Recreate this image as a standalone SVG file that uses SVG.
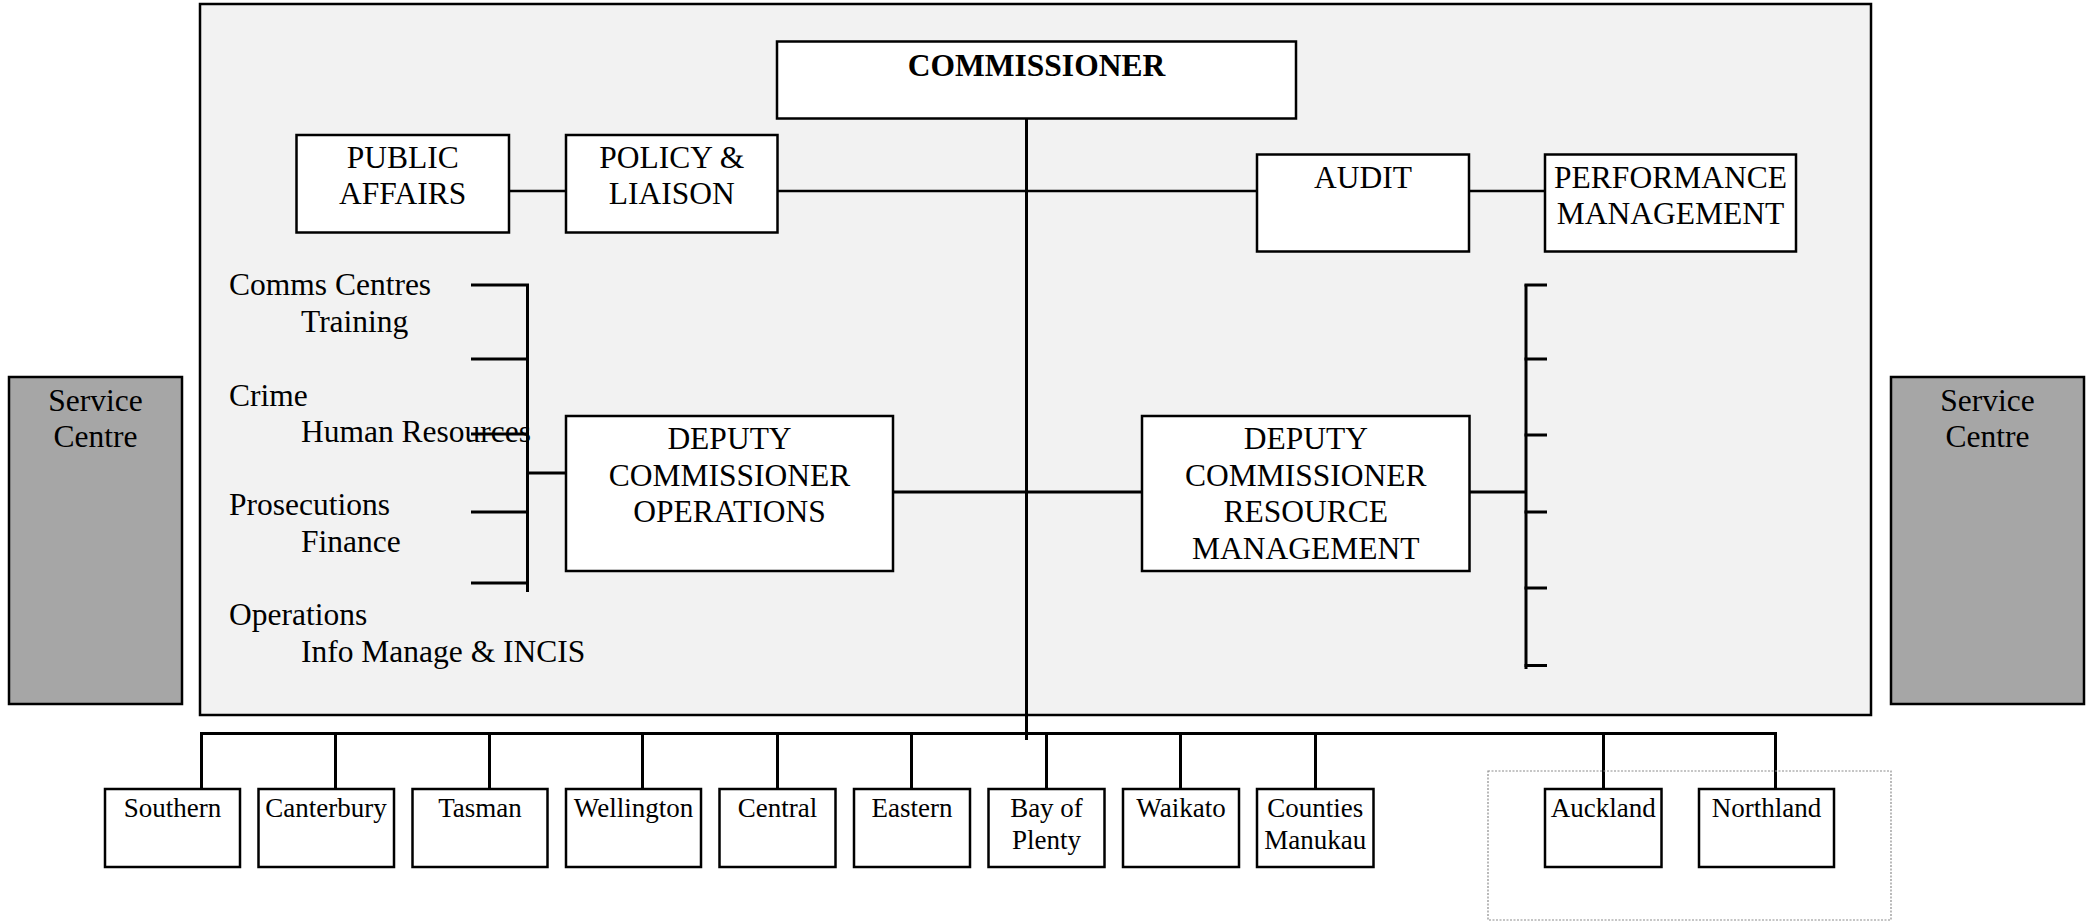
<svg xmlns="http://www.w3.org/2000/svg" width="2096" height="921" viewBox="0 0 2096 921">
  <style>
    .box { fill: #ffffff; stroke: #000000; stroke-width: 2.5; }
    .svc { fill: #a6a6a6; stroke: #000000; stroke-width: 2.5; }
    .t { font-family: "Liberation Serif", "Times New Roman", serif; font-size: 31.5px; fill: #000000; }
    .c { text-anchor: middle; }
    .b { font-weight: bold; }
    .s { font-family: "Liberation Serif", "Times New Roman", serif; font-size: 27px; fill: #000000; text-anchor: middle; }
    .ln { stroke: #000000; stroke-width: 3; fill: none; }
    .thin { stroke: #000000; stroke-width: 2.5; fill: none; }
  </style>

  <rect width="2096" height="921" fill="#ffffff"/>

  <!-- national headquarters panel -->
  <rect id="headquarters" x="200" y="4" width="1671" height="711" fill="#f2f2f2" stroke="#000000" stroke-width="2.5"/>

  <!-- service centres either side -->
  <g id="service-centre-left">
    <rect class="svc" x="9" y="377" width="173" height="327"/>
    <text class="t c" x="95.5" y="410.5">Service</text>
    <text class="t c" x="95.5" y="447">Centre</text>
  </g>
  <g id="service-centre-right">
    <rect class="svc" x="1891" y="377" width="193" height="327"/>
    <text class="t c" x="1987.5" y="410.5">Service</text>
    <text class="t c" x="1987.5" y="447">Centre</text>
  </g>

  <!-- operations branches listed beside the bracket -->
  <g id="operations-branches">
    <text class="t" x="229" y="294.5">Comms Centres</text>
    <text class="t" x="301" y="331.5">Training</text>
    <text class="t" x="229" y="405.5">Crime</text>
    <text class="t" x="301" y="441.5">Human Resources</text>
    <text class="t" x="229" y="515">Prosecutions</text>
    <text class="t" x="301" y="551.5">Finance</text>
    <text class="t" x="229" y="625">Operations</text>
    <text class="t" x="301" y="661.5">Info Manage &amp; INCIS</text>
  </g>

  <!-- connectors -->
  <g id="connectors">
    <!-- staff units row -->
    <line class="thin" x1="509" y1="191" x2="566" y2="191"/>
    <line class="thin" x1="777.5" y1="191" x2="1257" y2="191"/>
    <line class="thin" x1="1469" y1="191" x2="1545" y2="191"/>
    <!-- commissioner trunk -->
    <line class="ln" x1="1026.5" y1="118" x2="1026.5" y2="740"/>
    <!-- deputies link -->
    <line class="ln" x1="893" y1="492" x2="1142" y2="492"/>
    <!-- left bracket -->
    <line class="ln" x1="527.5" y1="284.5" x2="527.5" y2="592"/>
    <line class="ln" x1="471" y1="285" x2="529" y2="285"/>
    <line class="ln" x1="471" y1="359" x2="529" y2="359"/>
    <line class="ln" x1="471" y1="434" x2="529" y2="434"/>
    <line class="ln" x1="471" y1="512" x2="529" y2="512"/>
    <line class="ln" x1="471" y1="583" x2="529" y2="583"/>
    <line class="ln" x1="527.5" y1="473" x2="566" y2="473"/>
    <!-- right bracket -->
    <line class="ln" x1="1469.5" y1="492" x2="1526" y2="492"/>
    <line class="ln" x1="1526" y1="284.5" x2="1526" y2="669"/>
    <line class="ln" x1="1524.5" y1="285" x2="1547" y2="285"/>
    <line class="ln" x1="1524.5" y1="359" x2="1547" y2="359"/>
    <line class="ln" x1="1524.5" y1="435" x2="1547" y2="435"/>
    <line class="ln" x1="1524.5" y1="512" x2="1547" y2="512"/>
    <line class="ln" x1="1524.5" y1="588" x2="1547" y2="588"/>
    <line class="ln" x1="1524.5" y1="665.5" x2="1547" y2="665.5"/>
    <!-- district bus -->
    <polyline class="ln" points="201.5,789 201.5,733.5 1775.5,733.5 1775.5,789"/>
    <line class="ln" x1="335.5" y1="733.5" x2="335.5" y2="789"/>
    <line class="ln" x1="489.5" y1="733.5" x2="489.5" y2="789"/>
    <line class="ln" x1="642.5" y1="733.5" x2="642.5" y2="789"/>
    <line class="ln" x1="777.5" y1="733.5" x2="777.5" y2="789"/>
    <line class="ln" x1="911.5" y1="733.5" x2="911.5" y2="789"/>
    <line class="ln" x1="1046.5" y1="733.5" x2="1046.5" y2="789"/>
    <line class="ln" x1="1180.5" y1="733.5" x2="1180.5" y2="789"/>
    <line class="ln" x1="1315.5" y1="733.5" x2="1315.5" y2="789"/>
    <line class="ln" x1="1603.5" y1="733.5" x2="1603.5" y2="789"/>
  </g>

  <!-- headquarters units -->
  <g id="commissioner">
    <rect class="box" x="777" y="41.5" width="519" height="77"/>
    <text class="t c b" x="1036.5" y="76">COMMISSIONER</text>
  </g>
  <g id="public-affairs">
    <rect class="box" x="296.5" y="135" width="212.5" height="97.5"/>
    <text class="t c" x="402.7" y="167.5">PUBLIC</text>
    <text class="t c" x="402.7" y="204">AFFAIRS</text>
  </g>
  <g id="policy-liaison">
    <rect class="box" x="566" y="135" width="211.5" height="97.5"/>
    <text class="t c" x="671.7" y="167.5">POLICY &amp;</text>
    <text class="t c" x="671.7" y="204">LIAISON</text>
  </g>
  <g id="audit">
    <rect class="box" x="1257" y="154.5" width="212" height="97"/>
    <text class="t c" x="1363" y="187.5">AUDIT</text>
  </g>
  <g id="performance-management">
    <rect class="box" x="1545" y="154.5" width="251" height="97"/>
    <text class="t c" x="1670.5" y="187.5">PERFORMANCE</text>
    <text class="t c" x="1670.5" y="224">MANAGEMENT</text>
  </g>
  <g id="deputy-operations">
    <rect class="box" x="566" y="416" width="327" height="155"/>
    <text class="t c" x="729.5" y="449">DEPUTY</text>
    <text class="t c" x="729.5" y="485.5">COMMISSIONER</text>
    <text class="t c" x="729.5" y="522">OPERATIONS</text>
  </g>
  <g id="deputy-resource-management">
    <rect class="box" x="1142" y="416" width="327.5" height="155"/>
    <text class="t c" x="1305.8" y="449">DEPUTY</text>
    <text class="t c" x="1305.8" y="485.5">COMMISSIONER</text>
    <text class="t c" x="1305.8" y="522">RESOURCE</text>
    <text class="t c" x="1305.8" y="558.5">MANAGEMENT</text>
  </g>

  <!-- Auckland / Northland grouping -->
  <rect id="northern-group" x="1488" y="771" width="403" height="149" fill="none" stroke="#8c8c8c" stroke-width="1.2" stroke-dasharray="2,1.5"/>

  <!-- police districts -->
  <g id="southern">
    <rect class="box" x="105" y="789" width="135" height="78"/>
    <text class="s" x="172.5" y="817">Southern</text>
  </g>
  <g id="canterbury">
    <rect class="box" x="258.5" y="789" width="135.5" height="78"/>
    <text class="s" x="326" y="817">Canterbury</text>
  </g>
  <g id="tasman">
    <rect class="box" x="412.5" y="789" width="135" height="78"/>
    <text class="s" x="480" y="817">Tasman</text>
  </g>
  <g id="wellington">
    <rect class="box" x="566" y="789" width="135" height="78"/>
    <text class="s" x="633.5" y="817">Wellington</text>
  </g>
  <g id="central">
    <rect class="box" x="719.5" y="789" width="116" height="78"/>
    <text class="s" x="777.5" y="817">Central</text>
  </g>
  <g id="eastern">
    <rect class="box" x="854" y="789" width="116" height="78"/>
    <text class="s" x="912" y="817">Eastern</text>
  </g>
  <g id="bay-of-plenty">
    <rect class="box" x="988.5" y="789" width="116" height="78"/>
    <text class="s" x="1046.5" y="817">Bay of</text>
    <text class="s" x="1046.5" y="848.5">Plenty</text>
  </g>
  <g id="waikato">
    <rect class="box" x="1123" y="789" width="116" height="78"/>
    <text class="s" x="1181" y="817">Waikato</text>
  </g>
  <g id="counties-manukau">
    <rect class="box" x="1257" y="789" width="116.5" height="78"/>
    <text class="s" x="1315.3" y="817">Counties</text>
    <text class="s" x="1315.3" y="848.5">Manukau</text>
  </g>
  <g id="auckland">
    <rect class="box" x="1545" y="789" width="116.5" height="78"/>
    <text class="s" x="1603.3" y="817">Auckland</text>
  </g>
  <g id="northland">
    <rect class="box" x="1699" y="789" width="135" height="78"/>
    <text class="s" x="1766.5" y="817">Northland</text>
  </g>
</svg>
